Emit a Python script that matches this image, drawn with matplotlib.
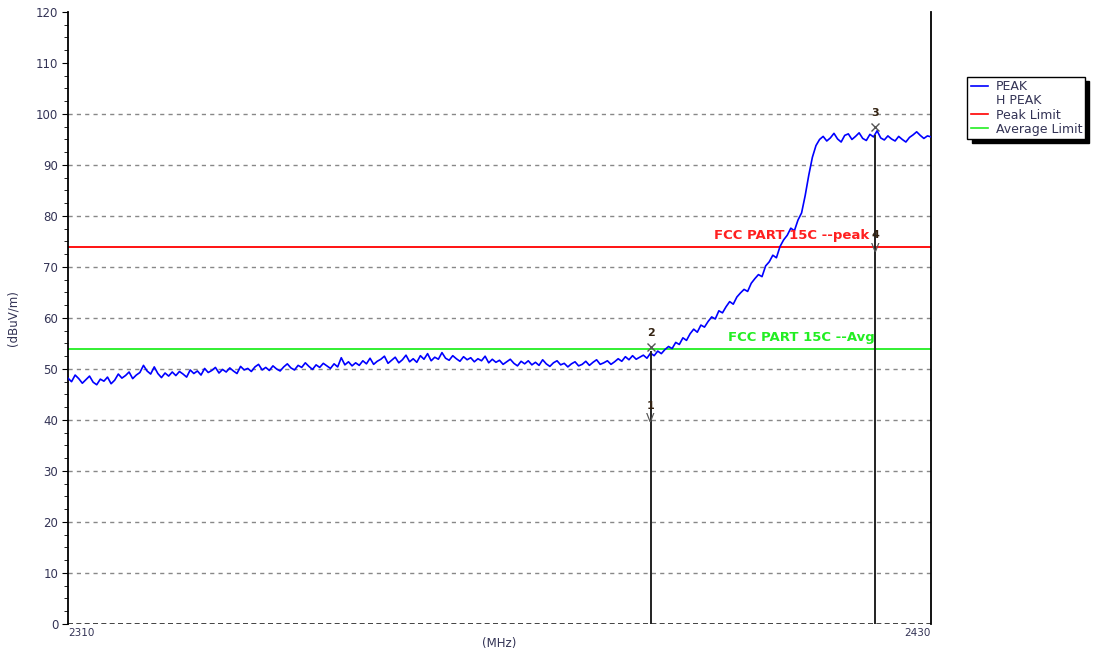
import matplotlib
matplotlib.use("Agg")
import matplotlib.pyplot as plt
from matplotlib.lines import Line2D
import numpy as np

plt.rcParams['font.family'] = ['DejaVu Sans']

# frequency axis of the sweep (MHz), 0.5 MHz steps
freq_start = 2310.0
freq_stop = 2430.0
freq_step = 0.5

# PEAK trace (dBuV/m)
peak = [
    48.2, 47.5, 48.8, 48.1, 47.2, 47.9, 48.6, 47.4, 46.9, 48.0,
    47.6, 48.4, 47.1, 47.8, 49.0, 48.2, 48.7, 49.4, 48.1, 48.8,
    49.3, 50.7, 49.6, 49.0, 50.4, 49.1, 48.3, 49.2, 48.6, 49.4,
    48.7, 49.5, 49.0, 48.4, 49.8, 49.1, 49.6, 48.8, 50.1, 49.3,
    49.7, 50.3, 49.2, 49.9, 49.4, 50.2, 49.6, 49.1, 50.5, 49.8,
    50.1, 49.5, 50.4, 50.9, 49.8, 50.3, 49.7, 50.6, 50.0, 49.6,
    50.4, 51.0, 50.2, 49.8, 50.7, 50.3, 51.2, 50.5, 49.9, 50.8,
    50.3, 51.1, 50.6, 50.1, 51.0, 50.4, 52.2, 50.8, 51.4, 50.6,
    51.2, 50.7, 51.6, 51.0, 52.1, 50.9, 51.5, 51.9, 52.5, 51.1,
    51.7, 52.3, 51.2, 51.8, 52.7, 51.4, 52.0, 51.3, 52.6, 51.9,
    53.0, 51.6, 52.3, 51.9, 53.2, 52.1, 51.7, 52.6, 52.0, 51.5,
    52.4, 51.8, 52.2, 51.4, 52.0, 51.6, 52.5, 51.2, 51.9, 51.3,
    51.7, 50.9, 51.4, 51.9, 51.1, 50.6, 51.5, 51.0, 51.6, 50.8,
    51.3, 50.7, 51.8, 51.0, 50.5, 51.2, 51.6, 50.8, 51.1, 50.4,
    51.0, 51.4, 50.6, 50.9, 51.5, 50.7, 51.3, 51.8, 50.9, 51.2,
    51.6, 50.9, 51.4, 52.0, 51.5, 52.4, 51.8, 52.6, 51.9, 52.3,
    52.7, 52.1, 53.1, 52.6, 53.5, 53.0, 53.8, 54.4, 54.0, 55.2,
    54.8, 56.1, 55.6, 56.9, 57.8, 57.2, 58.6, 58.2, 59.3, 60.2,
    59.8, 61.4, 61.0, 62.2, 63.2, 62.7, 64.1, 64.9, 65.6, 65.2,
    66.8, 67.7, 68.5, 68.1, 70.2, 71.0, 72.3, 71.8, 74.0, 75.3,
    76.2, 77.6, 77.1, 79.2, 80.6, 84.0, 88.0, 91.5, 93.8, 95.0,
    95.6, 94.7, 95.3, 96.2, 95.1, 94.5, 95.8, 96.1, 95.0, 95.6,
    96.3, 95.2, 94.8, 96.0, 95.5, 96.7, 95.3, 94.9, 95.7, 95.1,
    94.7, 95.6, 95.0, 94.5, 95.4, 95.9, 96.5, 95.8, 95.2, 95.7,
    95.5,
]
freqs = freq_start + freq_step * np.arange(len(peak))

peak_limit = 74.0
avg_limit = 54.0

# markers: (label, freq, level)
marker_x_labels = ["2", "3"]
marker_x_freq = [2391.0, 2422.2]
marker_x_level = [54.3, 97.4]
marker_v_labels = ["1", "4"]
marker_v_freq = [2391.0, 2422.2]
marker_v_level = [40.2, 73.6]

fig = plt.figure(figsize=(10.96, 6.54), dpi=100)
ax = fig.add_axes([0.062, 0.046, 0.7875, 0.9357])

ax.set_xlim(freq_start, freq_stop)
ax.set_ylim(0, 120)

# grid
for g in range(10, 101, 10):
    ax.axhline(g, color="#888888", lw=1.0, ls=(0, (3, 3)), zorder=1)
ax.axhline(0, color="#222222", lw=1.2, ls=(0, (3, 2)), zorder=1)

ax.plot(freqs, peak, color="#0000ff", lw=1.2, zorder=3)
ax.axhline(peak_limit, color="#ff0000", lw=1.3, zorder=2)
ax.axhline(avg_limit, color="#22ee22", lw=1.3, zorder=2)

ax.text(2421.4, peak_limit + 0.9, "FCC PART 15C --peak", color="#ff2020",
        fontsize=9.5, fontweight="bold", ha="right", va="bottom", zorder=4)
ax.text(2422.2, avg_limit + 0.9, "FCC PART 15C --Avg", color="#22ee22",
        fontsize=9.5, fontweight="bold", ha="right", va="bottom", zorder=4)

# marker lines
ax.vlines(marker_v_freq[0], 0, marker_x_level[0] - 0.8, color="#222222", lw=1.4, zorder=4)
ax.vlines(marker_v_freq[1], 0, marker_x_level[1] - 1.5, color="#222222", lw=1.4, zorder=4)

for lab, f, lv in zip(marker_x_labels, marker_x_freq, marker_x_level):
    ax.plot(f, lv, marker="x", color="#555555", ms=6, mew=1.0, zorder=5)
    ax.text(f, lv + 1.8, lab, fontsize=8, fontweight="bold", color="#332211",
            ha="center", va="bottom", zorder=5)
for lab, f, lv in zip(marker_v_labels, marker_v_freq, marker_v_level):
    ax.text(f, lv, "V", fontsize=9, color="#555555", ha="center", va="center", zorder=5)
    ax.text(f, lv + 1.6, lab, fontsize=8, fontweight="bold", color="#332211",
            ha="center", va="bottom", zorder=5)

# spines / ticks
for s in ["top", "bottom"]:
    ax.spines[s].set_visible(False)
ax.spines["left"].set_linewidth(1.3)
ax.spines["right"].set_linewidth(1.3)
ax.set_yticks(np.arange(0, 121, 10))
ax.set_yticks(np.arange(0, 121, 2.5), minor=True)
ax.tick_params(axis="y", which="major", length=4, labelsize=8.5, labelcolor="#333355", pad=3)
ax.tick_params(axis="y", which="minor", length=3)
ax.set_xticks([])
ax.text(0.0, -0.006, "2310", transform=ax.transAxes, fontsize=7.5, color="#333355",
        ha="left", va="top")
ax.text(1.0, -0.006, "2430", transform=ax.transAxes, fontsize=7.5, color="#333355",
        ha="right", va="top")
ax.text(0.5, -0.022, "(MHz)", transform=ax.transAxes, fontsize=8.5, color="#333355",
        ha="center", va="top")
ax.set_ylabel("(dBuV/m)", fontsize=8.5, color="#333355", labelpad=12)

handles = [Line2D([], [], color="#0000ff", lw=1.2),
           Line2D([], [], color="none", lw=1.2),
           Line2D([], [], color="#ff0000", lw=1.2),
           Line2D([], [], color="#22ee22", lw=1.2)]
labels = ["PEAK", "H PEAK", "Peak Limit", "Average Limit"]
leg = fig.legend(handles, labels, loc="upper left", bbox_to_anchor=(0.877, 0.892),
                 fontsize=9, handlelength=1.4, handletextpad=0.6, labelspacing=0.1,
                 borderpad=0.25, fancybox=False, framealpha=1,
                 shadow={"color": "black", "alpha": 1, "ox": 3, "oy": -3})
leg.get_frame().set_edgecolor("black")
leg.get_frame().set_linewidth(1.0)
for t in leg.get_texts():
    t.set_color("#333355")

plt.savefig("out.png", dpi=100)
